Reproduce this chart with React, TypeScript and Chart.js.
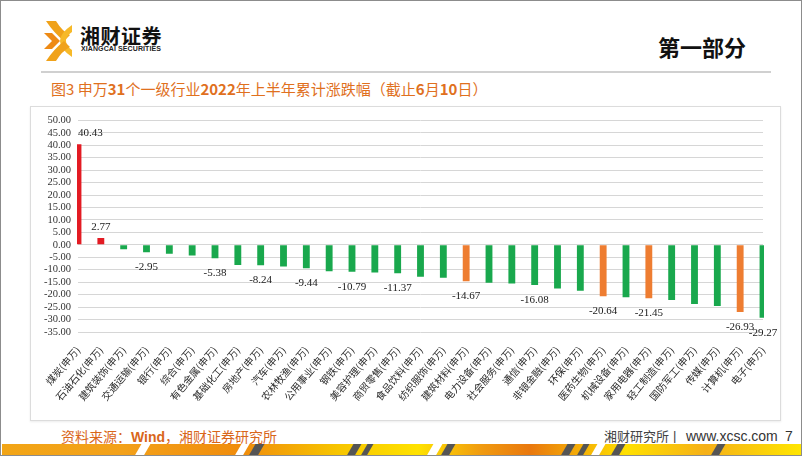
import React, { useEffect, useRef } from "react";
import { Chart, registerables } from "chart.js";

Chart.register(...registerables);

const categories: string[] = [
  "煤炭(申万)", "石油石化(申万)", "建筑装饰(申万)", "交通运输(申万)", "银行(申万)",
  "综合(申万)", "有色金属(申万)", "基础化工(申万)", "房地产(申万)", "汽车(申万)",
  "农林牧渔(申万)", "公用事业(申万)", "钢铁(申万)", "美容护理(申万)", "商贸零售(申万)",
  "食品饮料(申万)", "纺织服饰(申万)", "建筑材料(申万)", "电力设备(申万)", "社会服务(申万)",
  "通信(申万)", "非银金融(申万)", "环保(申万)", "医药生物(申万)", "机械设备(申万)",
  "家用电器(申万)", "轻工制造(申万)", "国防军工(申万)", "传媒(申万)", "计算机(申万)",
  "电子(申万)",
];

const values: number[] = [
  40.43, 2.77, -1.73, -2.95, -3.62, -4.25, -5.38, -8.12, -8.24, -8.7,
  -9.44, -10.6, -10.79, -11.1, -11.37, -12.85, -13.2, -14.67, -15.2, -15.5,
  -16.08, -17.5, -18.4, -20.64, -21.0, -21.45, -22.2, -23.8, -24.6, -26.93,
  -29.27,
];

const highlighted: string[] = ["建筑材料(申万)", "医药生物(申万)", "家用电器(申万)", "计算机(申万)"];
const labeledCategories: string[] = [
  "煤炭(申万)", "石油石化(申万)", "交通运输(申万)", "有色金属(申万)", "房地产(申万)",
  "农林牧渔(申万)", "钢铁(申万)", "商贸零售(申万)", "建筑材料(申万)", "通信(申万)",
  "医药生物(申万)", "家用电器(申万)", "计算机(申万)", "电子(申万)",
];

const Y_MIN = -35;
const Y_MAX = 50;
const Y_STEP = 5;

const RED = "#e31b23";
const GREEN = "#19a84d";
const ORANGE = "#ee7d31";

const barColors = categories.map((c, i) =>
  values[i] > 0 ? RED : highlighted.includes(c) ? ORANGE : GREEN
);

const valueLabelPlugin = {
  id: "valueLabels",
  afterDatasetsDraw(chart: any) {
    const ctx = chart.ctx;
    const meta = chart.getDatasetMeta(0);
    ctx.save();
    ctx.font = "11px 'Liberation Serif', serif";
    ctx.fillStyle = "#1a1a1a";
    ctx.textAlign = "center";
    ctx.textBaseline = "middle";
    categories.forEach((c, i) => {
      if (!labeledCategories.includes(c)) return;
      const el = meta.data[i];
      const text = values[i].toFixed(2);
      const w = ctx.measureText(text).width;
      let x = el.x;
      if (x - w / 2 < chart.chartArea.left) x = chart.chartArea.left + w / 2;
      const y = values[i] >= 0 ? el.y - 11 : el.y + 15;
      ctx.fillText(text, x, y);
    });
    ctx.restore();
  },
};

function ChartCanvas() {
  const ref = useRef<HTMLCanvasElement | null>(null);
  useEffect(() => {
    if (!ref.current) return;
    const chart = new Chart(ref.current, {
      type: "bar",
      data: {
        labels: categories,
        datasets: [
          {
            data: values,
            backgroundColor: barColors,
            borderWidth: 0,
            barPercentage: 0.3,
            categoryPercentage: 1,
            clip: 1,
          } as any,
        ],
      },
      options: {
        responsive: false,
        animation: false,
        layout: { padding: { top: 13, right: 17, left: 0, bottom: 0 } },
        plugins: {
          legend: { display: false },
          tooltip: { enabled: false },
          title: { display: false },
        },
        scales: {
          x: {
            offset: false,
            grid: { display: false, drawTicks: false },
            border: { display: false },
            ticks: {
              autoSkip: false,
              maxRotation: 50,
              minRotation: 50,
              padding: 12,
              color: "#2a2a2a",
              font: { family: "'Noto Sans CJK SC', sans-serif", size: 10 },
            },
            afterFit: (s: any) => {
              s.height = 87;
              s.paddingLeft = 0;
              s.paddingRight = 0;
            },
          },
          y: {
            min: Y_MIN,
            max: Y_MAX,
            grid: { color: "#d6d6d6", lineWidth: 1, drawTicks: false },
            border: { display: false },
            ticks: {
              autoSkip: false,
              stepSize: Y_STEP,
              padding: 7,
              color: "#333333",
              font: { family: "'Liberation Serif', serif", size: 10.5 },
              callback: (v: any) => Number(v).toFixed(2),
            },
            afterFit: (s: any) => {
              s.width = 47;
            },
          },
        },
      },
      plugins: [valueLabelPlugin],
    });
    return () => chart.destroy();
  }, []);
  return <canvas ref={ref} width={749} height={312} style={{ position: "absolute", left: 30, top: 106 }} />;
}

function Logo() {
  return (
    <svg width="32" height="44" viewBox="0 0 32 44" style={{ position: "absolute", left: 41, top: 18 }}>
      <path d="M4 2 L14 2 Q20 12 28 16 L22 22 Q12 14 4 2 Z" fill="#f0a21a" />
      <path d="M30 6 Q18 14 18 22 Q18 30 30 38 L30 31 Q24 27 24 22 Q24 17 30 13 Z" fill="#f7b928" />
      <path d="M2 14 L10 14 L18 22 L10 30 L2 30 L10 22 Z" fill="#ee8a14" />
      <path d="M4 42 L14 42 Q20 32 28 28 L22 22 Q12 30 4 42 Z" fill="#f0a21a" />
    </svg>
  );
}

function Stripe() {
  const slashes: { x: number; c: string; w: number }[] = [
    { x: 136, c: "#ffffff", w: 9 },
    { x: 236, c: "#ffffff", w: 8 },
    { x: 250, c: "#555555", w: 9 },
    { x: 348, c: "#555555", w: 8 },
    { x: 362, c: "#555555", w: 6 },
    { x: 428, c: "#ffffff", w: 9 },
    { x: 442, c: "#555555", w: 8 },
    { x: 562, c: "#555555", w: 8 },
    { x: 578, c: "#555555", w: 6 },
    { x: 592, c: "#ffffff", w: 8 },
    { x: 612, c: "#555555", w: 8 },
    { x: 712, c: "#555555", w: 8 },
  ];
  return (
    <div
      style={{
        position: "absolute",
        left: 1,
        top: 443,
        width: 800,
        height: 12,
        overflow: "hidden",
        background:
          "linear-gradient(90deg, #f2a516 0%, #f3a11a 15%, #f08c0c 30%, #f7c500 42%, #ffe200 52%, #f09a10 60%, #e9780e 66%, #ffe000 78%, #f5b018 88%, #ffe600 100%)",
      }}
    >
      {slashes.map((s, i) => (
        <div
          key={i}
          style={{
            position: "absolute",
            left: s.x,
            top: 0,
            width: s.w,
            height: 12,
            background: s.c,
            transform: "skewX(-30deg)",
          }}
        />
      ))}
    </div>
  );
}

export default function App() {
  const cjk = "'Noto Sans CJK SC', sans-serif";
  return (
    <div
      style={{
        position: "fixed",
        left: 0,
        top: 0,
        width: 802,
        height: 456,
        boxSizing: "border-box",
        border: "1px solid #8c8c8c",
        background: "#ffffff",
        overflow: "hidden",
        fontFamily: cjk,
      }}
    >
      <Logo />
      <div style={{ position: "absolute", left: 79, top: 22, fontSize: 20, fontWeight: 700, color: "#111", letterSpacing: 0.5, lineHeight: "26px" }}>
        湘财证券
      </div>
      <div style={{ position: "absolute", left: 80, top: 43, fontSize: 7, fontWeight: 700, color: "#222", fontFamily: "'Liberation Sans', Arial, sans-serif", lineHeight: "9px", letterSpacing: 0.1 }}>
        XIANGCAI SECURITIES
      </div>
      <div style={{ position: "absolute", left: 657, top: 30, fontSize: 22, fontWeight: 700, color: "#111", lineHeight: "30px" }}>
        第一部分
      </div>
      <div style={{ position: "absolute", left: 40, top: 70, width: 730, height: 2, background: "#d0d0d0" }} />
      <div style={{ position: "absolute", left: 50, top: 78, fontSize: 15, color: "#e0701e", lineHeight: "20px", whiteSpace: "nowrap" }}>
        图3 申万<b>31</b>个一级行业<b>2022</b>年上半年累计涨跌幅（截止<b>6</b>月<b>10</b>日）
      </div>
      <div style={{ position: "absolute", left: 29, top: 105, width: 751, height: 315, boxSizing: "border-box", border: "1px solid #dcdcdc", boxShadow: "0 1px 2px rgba(0,0,0,0.08)" }} />
      <ChartCanvas />
      <div style={{ position: "absolute", left: 60, top: 425, fontSize: 14, color: "#d9661a", lineHeight: "20px", whiteSpace: "nowrap" }}>
        资料来源：<b style={{ fontFamily: "'Liberation Sans', Arial, sans-serif" }}>Wind</b>，湘财证券研究所
      </div>
      <div style={{ position: "absolute", left: 603, top: 426, fontSize: 13, color: "#444", lineHeight: "18px", whiteSpace: "nowrap" }}>
        湘财研究所
      </div>
      <div style={{ position: "absolute", left: 672, top: 426, fontSize: 13, color: "#444", lineHeight: "18px", fontFamily: "'Liberation Sans', Arial, sans-serif" }}>
        |
      </div>
      <div style={{ position: "absolute", left: 685, top: 426, fontSize: 14, color: "#333", lineHeight: "18px", fontFamily: "'Liberation Sans', Arial, sans-serif" }}>
        www.xcsc.com
      </div>
      <div style={{ position: "absolute", left: 784, top: 426, fontSize: 14, color: "#333", lineHeight: "18px", fontFamily: "'Liberation Sans', Arial, sans-serif" }}>
        7
      </div>
      <Stripe />
    </div>
  );
}
